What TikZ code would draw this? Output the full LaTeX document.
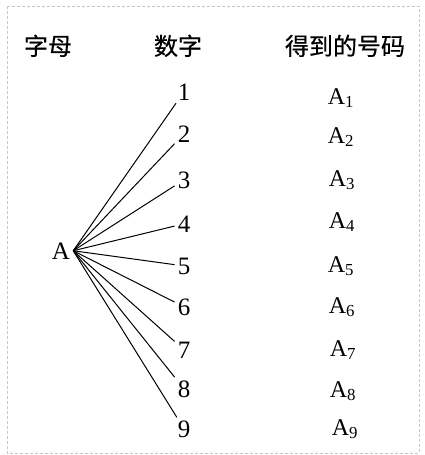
\documentclass[tikz,border=0pt]{standalone}
\usepackage{fontspec}
\setmainfont{Liberation Serif}
\newfontfamily\cjk[FakeBold=0.5]{Noto Sans CJK SC}
\usepackage{tikz}
\usetikzlibrary{positioning}

\begin{document}
\begin{tikzpicture}[
    x=1pt, y=-1pt,
    head/.style={anchor=base, font=\cjk\fontsize{24}{28}\selectfont},
    lbl/.style={anchor=base, inner sep=3pt, font=\fontsize{25}{29}\selectfont},
    code/.style={anchor=base, font=\fontsize{24}{28}\selectfont},
    link/.style={line width=1pt, black}
]
\useasboundingbox (0,0) rectangle (424,455);
\draw[gray!45, line width=0.6pt, densely dashed] (7,6) rectangle (419,453);

% column headers
\node[head] (letter) at (48,55) {字母};
\node[head] (digit) at (178,55) {数字};
\node[head] (result) at (345,55) {得到的号码};

% the letter
\node[lbl] (A) at (61,259) {A};

% digits
\node[lbl] (n1) at (184,100) {1};
\node[lbl] (n2) at (184,142) {2};
\node[lbl] (n3) at (184,188) {3};
\node[lbl] (n4) at (184,232) {4};
\node[lbl] (n5) at (184,274) {5};
\node[lbl] (n6) at (184,315) {6};
\node[lbl] (n7) at (184,358) {7};
\node[lbl] (n8) at (184,397) {8};
\node[lbl] (n9) at (184,437) {9};

% resulting codes
\node[code] (c1) at (341,104) {A\textsubscript{1}};
\node[code] (c2) at (341,143) {A\textsubscript{2}};
\node[code] (c3) at (342,186) {A\textsubscript{3}};
\node[code] (c4) at (342,228) {A\textsubscript{4}};
\node[code] (c5) at (341,272) {A\textsubscript{5}};
\node[code] (c6) at (342,313) {A\textsubscript{6}};
\node[code] (c7) at (343,356) {A\textsubscript{7}};
\node[code] (c8) at (343,397) {A\textsubscript{8}};
\node[code] (c9) at (345,435) {A\textsubscript{9}};

% branches
\draw[link] (A.east) -- (n1);
\draw[link] (A.east) -- (n2);
\draw[link] (A.east) -- (n3);
\draw[link] (A.east) -- (n4);
\draw[link] (A.east) -- (n5);
\draw[link] (A.east) -- (n6);
\draw[link] (A.east) -- (n7);
\draw[link] (A.east) -- (n8);
\draw[link] (A.east) -- (n9);

\end{tikzpicture}
\end{document}
